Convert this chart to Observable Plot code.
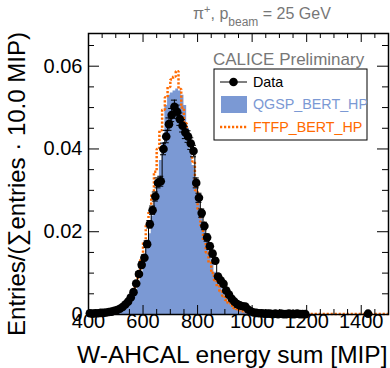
<!DOCTYPE html>
<html><head><meta charset="utf-8">
<script src="https://cdn.jsdelivr.net/npm/d3@7"></script>
<script src="https://cdn.jsdelivr.net/npm/@observablehq/plot@0.6"></script>
<style>body{margin:0;background:#fff}</style>
</head><body><div id="chart"></div>
<script>
// ---- data ----
const dataEnergy = [405,415,425,435,445,455,465,475,485,495,505,515,525,535,545,555,565,575,585,595,
  605,615,625,635,645,655,665,675,685,695,705,715,725,735,745,755,765,775,785,795,
  805,815,825,835,845,855,865,875,885,895,905,915,925,935,945,955,965,975,985,995,
  1005,1015,1025,1035,1045,1055,1065,1075,1085,1095,1105,1115,1125,1135,1145,1155,1165,1175,1185,1195,1425];
const dataValue = [0.0003,0.0002,0.0003,0.0003,0.0004,0.0004,0.0005,0.0006,0.0007,0.0009,
  0.0011,0.0014,0.0018,0.0024,0.0031,0.0041,0.0054,0.0075,0.0098,0.0120,
  0.0137,0.0170,0.0218,0.0252,0.0285,0.0318,0.0322,0.0400,0.0430,0.0460,
  0.0482,0.0502,0.0490,0.0472,0.0456,0.0440,0.0430,0.0413,0.0395,0.0318,
  0.0282,0.0245,0.0214,0.0186,0.0165,0.0147,0.0130,0.0092,0.0082,0.0074,
  0.0058,0.0048,0.0038,0.0031,0.0025,0.0022,0.0020,0.0019,0.0012,0.0008,
  0.0005,0.0004,0.0003,0.0003,0.0002,0.0002,0.0002,0.0001,0.0002,0.0001,
  0.0002,0.0001,0.0001,0.0002,0.0001,0.0001,0.0002,0.0001,0.0001,0.0001,0.0002];
const dataError = [0.0001,0.0001,0.0001,0.0001,0.0001,0.0001,0.0001,0.0001,0.0002,0.0002,
  0.0002,0.0002,0.0003,0.0003,0.0003,0.0004,0.0004,0.0005,0.0006,0.0007,
  0.0007,0.0008,0.0009,0.0010,0.0011,0.0012,0.0012,0.0014,0.0015,0.0015,
  0.0016,0.0016,0.0016,0.0015,0.0015,0.0015,0.0014,0.0014,0.0014,0.0012,
  0.0011,0.0010,0.0009,0.0009,0.0008,0.0008,0.0007,0.0006,0.0006,0.0005,
  0.0005,0.0004,0.0004,0.0003,0.0003,0.0003,0.0003,0.0003,0.0002,0.0002,
  0.0001,0.0001,0.0001,0.0001,0.0001,0.0001,0.0001,0.0001,0.0001,0.0001,
  0.0001,0.0001,0.0001,0.0001,0.0001,0.0001,0.0001,0.0001,0.0001,0.0001,0.0001];

const simEnergy = [405,415,425,435,445,455,465,475,485,495,505,515,525,535,545,555,565,575,585,595,
  605,615,625,635,645,655,665,675,685,695,705,715,725,735,745,755,765,775,785,795,
  805,815,825,835,845,855,865,875,885,895,905,915,925,935,945,955,965,975,985,995,
  1005,1015,1025,1035,1045,1055,1065,1075,1085,1095,1105,1115,1125,1135,1145,1155,1165,1175,1185,1195,
  1205,1215,1225,1235,1245,1255,1265,1275,1285,1295,1305,1315,1325,1335,1345,1355,1365,1375,1385,1395,
  1405,1415,1425,1435,1445,1455,1465,1475,1485,1495];
const qgspValue = [0.0001,0.0001,0.0001,0.0002,0.0002,0.0002,0.0003,0.0003,0.0004,0.0005,
  0.0006,0.0008,0.0011,0.0015,0.0021,0.0030,0.0042,0.0058,0.0078,0.0102,
  0.0128,0.0158,0.0195,0.0238,0.0282,0.0325,0.0372,0.0415,0.0505,0.0530,
  0.0535,0.0540,0.0545,0.0540,0.0530,0.0505,0.0450,0.0400,0.0360,0.0325,
  0.0290,0.0250,0.0215,0.0182,0.0152,0.0125,0.0102,0.0082,0.0066,0.0052,
  0.0040,0.0031,0.0023,0.0017,0.0013,0.0009,0.0007,0.0005,0.0004,0.0003,
  0.0002,0.0002,0.0002,0.0001,0.0001,0.0001,0.0001,0.0001,0.0001,0.0001,
  0.0001,0.0001,0.0001,0.0001,0.0001,0.0001,0.0001,0.0001,0.0001,0.0001,
  0,0,0,0,0,0,0,0,0,0, 0,0,0,0,0,0,0,0,0,0, 0,0,0,0,0,0,0,0,0,0];
const ftfpValue = [0.0001,0.0001,0.0001,0.0001,0.0002,0.0002,0.0002,0.0003,0.0004,0.0005,
  0.0007,0.0009,0.0013,0.0019,0.0027,0.0038,0.0055,0.0075,0.0100,0.0132,
  0.0175,0.0220,0.0250,0.0290,0.0345,0.0400,0.0445,0.0495,0.0525,0.0550,
  0.0568,0.0575,0.0588,0.0545,0.0500,0.0462,0.0432,0.0410,0.0370,0.0300,
  0.0255,0.0215,0.0180,0.0150,0.0125,0.0100,0.0083,0.0068,0.0056,0.0045,
  0.0035,0.0027,0.0021,0.0016,0.0013,0.0010,0.0008,0.0006,0.0005,0.0004,
  0.0003,0.0003,0.0002,0.0002,0.0002,0.0002,0.0001,0.0001,0.0001,0.0001,
  0.0001,0.0001,0.0001,0.0001,0.0001,0.0001,0.0001,0.0001,0.0001,0.0001,
  0.0001,0.0001,0.0001,0.0001,0.0001,0.0001,0.0001,0.0001,0.0001,0.0001,
  0.0001,0.0001,0.0001,0.0001,0.0001,0.0001,0.0001,0.0001,0.0001,0.0001,
  0.0001,0.0001,0.0001,0.0001,0.0001,0.0001,0.0001,0.0001,0.0001,0.0001];

const xTicks = [400, 600, 800, 1000, 1200, 1400];
const xMinorTicks = [450,500,550,650,700,750,850,900,950,1050,1100,1150,1250,1300,1350,1450];
const yTicks = [0, 0.02, 0.04, 0.06];
const yMinorTicks = [0.005,0.01,0.015,0.025,0.03,0.035,0.045,0.05,0.055,0.065];
const yTickLabels = ["0", "0.02", "0.04", "0.06"];
const xLabel = "W-AHCAL energy sum [MIP]";
const yLabel = "Entries/(\u2211entries \u00b7 10.0 MIP)";
const seriesNames = ["Data", "QGSP_BERT_HP", "FTFP_BERT_HP"];
const blue = "#7b99d4", orange = "#ff6a00";
const binWidth = 10;

// ---- tables built from the arrays ----
const dataRows = dataEnergy.map((E, i) => ({E, v: dataValue[i], e: dataError[i]}));
const dataLineRows = dataRows.filter(d => d.E < 1300);
const steps = vals => simEnergy.flatMap((E, i) => [
  {x: E - binWidth / 2, y: vals[i]}, {x: E + binWidth / 2, y: vals[i]}]);
const qgspSteps = steps(qgspValue);
const ftfpSteps = steps(ftfpValue);

const W = 300, H = 281;
const black = "#000";
const dash = "2.2,1.8";

const chart = Plot.plot({
  width: 390, height: 368,
  marginLeft: 88, marginRight: 2, marginTop: 33, marginBottom: 54,
  style: {fontFamily: "'Liberation Sans', Arial, sans-serif", fontSize: "20px", background: "#fff", color: "#000", overflow: "visible"},
  x: {domain: [400, 1500], label: null},
  y: {domain: [0, 0.0679], label: null},
  marks: [
    Plot.area(qgspSteps, {x1: "x", y1: 0, y2: "y", fill: blue}),
    Plot.line(ftfpSteps, {x: "x", y: "y", stroke: orange, strokeWidth: 2.5, strokeDasharray: dash, strokeLinecap: "butt", strokeLinejoin: "miter"}),
    Plot.line(dataLineRows, {x: "E", y: "v", curve: "step", stroke: black, strokeWidth: 1}),
    Plot.ruleX(dataRows, {x: "E", y1: d => d.v - d.e, y2: d => d.v + d.e, stroke: black}),
    Plot.ruleY(dataRows, {y: d => d.v + d.e, x1: d => d.E - 11, x2: d => d.E + 11, stroke: black}),
    Plot.ruleY(dataRows, {y: d => d.v - d.e, x1: d => d.E - 11, x2: d => d.E + 11, stroke: black}),
    Plot.dot(dataRows, {x: "E", y: "v", r: 4.3, fill: black}),
    // inward ticks, all four sides
    Plot.ruleX(xTicks, {x: d => d, insetTop: H - 9, stroke: black}),
    Plot.ruleX(xTicks, {x: d => d, insetBottom: H - 9, stroke: black}),
    Plot.ruleX(xMinorTicks, {x: d => d, insetTop: H - 5, stroke: black}),
    Plot.ruleX(xMinorTicks, {x: d => d, insetBottom: H - 5, stroke: black}),
    Plot.ruleY(yTicks, {y: d => d, insetRight: W - 11, stroke: black}),
    Plot.ruleY(yTicks, {y: d => d, insetLeft: W - 11, stroke: black}),
    Plot.ruleY(yMinorTicks, {y: d => d, insetRight: W - 6, stroke: black}),
    Plot.ruleY(yMinorTicks, {y: d => d, insetLeft: W - 6, stroke: black}),
    Plot.frame({stroke: black, strokeWidth: 1.5}),
    Plot.axisX(xTicks, {tickSize: 0, tickPadding: 0, dy: -1, fontSize: 20, tickFormat: d => String(d)}),
    Plot.axisY(yTicks, {tickSize: 0, tickPadding: 6, fontSize: 20, tickFormat: (d, i) => yTickLabels[i]}),
    Plot.text([xLabel], {text: d => d, frameAnchor: "bottom-right", textAnchor: "end", lineAnchor: "bottom", dx: -1, dy: 48, fontSize: 24.5}),
    Plot.text([yLabel], {text: d => d, frameAnchor: "left", textAnchor: "middle", lineAnchor: "middle", rotate: -90, dx: -71, dy: 10, fontSize: 24})
  ]
});
document.getElementById("chart").appendChild(chart);

// ---- title, CALICE label, legend ----
const svg = d3.select(chart);
const ff = "'Liberation Sans', Arial, sans-serif";
const t = svg.append("text").attr("x", 193).attr("y", 19).attr("fill", "#777").attr("text-anchor", "start")
  .style("font-family", ff).style("font-size", "16px");
t.append("tspan").text("\u03c0");
t.append("tspan").attr("dy", -6).style("font-size", "11px").text("+");
t.append("tspan").attr("dy", 6).text(", p");
t.append("tspan").attr("dy", 7).style("font-size", "12px").text("beam");
t.append("tspan").attr("dy", -7).text(" = 25 GeV");

svg.append("text").attr("x", 213).attr("y", 65).attr("fill", "#777").attr("text-anchor", "start")
  .style("font-family", ff).style("font-size", "17px").text("CALICE Preliminary");

const lg = svg.append("g").attr("text-anchor", "start").style("font-family", ff).style("font-size", "14.3px");
lg.append("rect").attr("x", 214).attr("y", 69).attr("width", 153).attr("height", 71)
  .attr("fill", "#fff").attr("stroke", black).attr("stroke-width", 1);
lg.append("line").attr("x1", 220).attr("x2", 247).attr("y1", 82).attr("y2", 82).attr("stroke", black);
lg.append("circle").attr("cx", 233.5).attr("cy", 82).attr("r", 4.3).attr("fill", black);
lg.append("text").attr("x", 253).attr("y", 82).attr("dy", "0.35em").attr("fill", black).text(seriesNames[0]);
lg.append("rect").attr("x", 221).attr("y", 96).attr("width", 26).attr("height", 17).attr("fill", blue);
lg.append("text").attr("x", 253).attr("y", 104).attr("dy", "0.35em").attr("fill", blue).text(seriesNames[1]);
lg.append("line").attr("x1", 220).attr("x2", 247).attr("y1", 127).attr("y2", 127)
  .attr("stroke", orange).attr("stroke-width", 2.5).attr("stroke-dasharray", dash);
lg.append("text").attr("x", 253).attr("y", 127).attr("dy", "0.35em").attr("fill", orange).text(seriesNames[2]);
</script>
</body></html>
